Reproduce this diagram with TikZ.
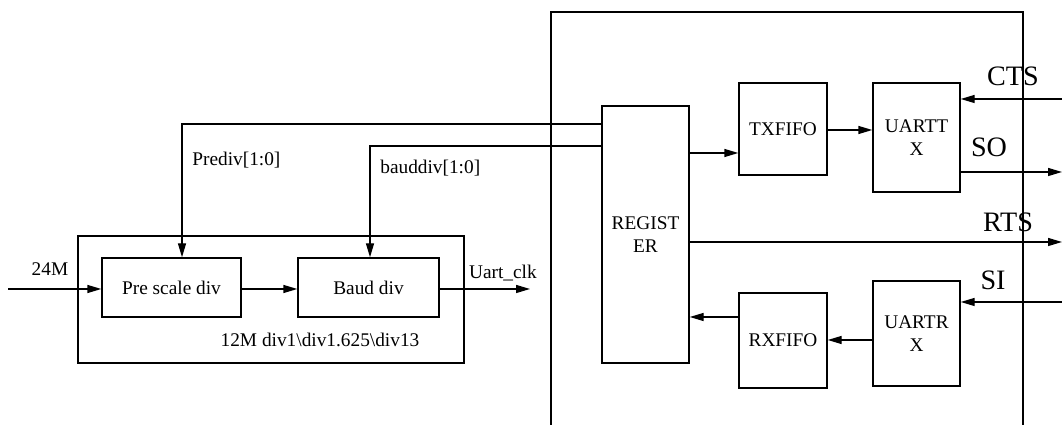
\documentclass[tikz,border=0pt]{standalone}
\usepackage{fontspec}
\setmainfont{Liberation Serif}
\usetikzlibrary{arrows.meta}

\tikzset{
  blk/.style={draw, line width=0.8pt, minimum width=1.76cm, inner sep=0pt, align=center, font=\fontsize{11}{13}\selectfont},
  wire/.style={line width=0.8pt},
  lbl/.style={font=\fontsize{11}{13}\selectfont, inner sep=0pt},
  sig/.style={font=\fontsize{16}{18}\selectfont, inner sep=0pt}
}

\begin{document}
\begin{tikzpicture}[>={Triangle[length=2.8mm,width=1.6mm]}]
    \useasboundingbox (0,0) rectangle (21.24,8.5);

    % Outer frames
    \draw[wire] (11.02,0) -- (11.02,8.26) -- (20.46,8.26) -- (20.46,0);
    \draw[wire] (1.56,1.24) rectangle (9.28,3.78);

    % Clock divider blocks
    \node[blk, minimum width=2.78cm, minimum height=1.18cm] (prescale) at (3.43,2.75) {Pre scale div};
    \node[blk, minimum width=2.82cm, minimum height=1.18cm] (baud) at (7.37,2.75) {Baud div};
    \node[lbl] (divs) at (6.4,1.7) {12M div1\textbackslash div1.625\textbackslash div13};

    % UART blocks
    \node[blk, minimum width=1.74cm, minimum height=5.14cm] (reg) at (12.91,3.81) {REGIST\\ER};
    \node[blk, minimum height=1.84cm] (txfifo) at (15.66,5.92) {TXFIFO};
    \node[blk, minimum width=1.74cm, minimum height=2.18cm] (uarttx) at (18.33,5.75) {UARTT\\X};
    \node[blk, minimum height=1.9cm] (rxfifo) at (15.66,1.69) {RXFIFO};
    \node[blk, minimum width=1.74cm, minimum height=2.1cm] (uartrx) at (18.33,1.83) {UARTR\\X};

    % Free ends
    \coordinate (clkin) at (0.16,2.72);
    \coordinate (clkout) at (10.6,2.72);
    \coordinate (pd) at (3.64,6.02);
    \coordinate (bd) at (7.4,5.58);
    \coordinate (cts) at (21.24,6.52);
    \coordinate (so) at (21.24,5.06);
    \coordinate (rts) at (21.24,3.66);
    \coordinate (si) at (21.24,2.46);

    % Clock path
    \draw[->, wire] (clkin) -- (prescale.west |- clkin) node[pos=0.45, above=0.25cm, lbl] {24M};
    \draw[->, wire] (prescale.east |- clkin) -- (baud.west |- clkin);
    \draw[->, wire] (baud.east |- clkin) -- (clkout) node[pos=0.7, above=0.15cm, lbl] {Uart\_clk};

    % Divider settings from the register
    \draw[->, wire] (reg.west |- pd) -- (pd) -- (pd |- prescale.north);
    \draw[->, wire] (reg.west |- bd) -- (bd) -- (bd |- baud.north);
    \node[lbl, anchor=west] (pdl) at (3.84,5.3) {Prediv[1:0]};
    \node[lbl, anchor=west] (bdl) at (7.6,5.14) {bauddiv[1:0]};

    % Transmit and receive paths
    \draw[->, wire] (reg.east |- 0,5.44) -- (txfifo.west |- 0,5.44);
    \draw[->, wire] (txfifo.east |- 0,5.9) -- (uarttx.west |- 0,5.9);
    \draw[->, wire] (uartrx.west |- 0,1.7) -- (rxfifo.east |- 0,1.7);
    \draw[->, wire] (rxfifo.west |- 0,2.16) -- (reg.east |- 0,2.16);

    % External signals
    \draw[->, wire] (cts) -- (uarttx.east |- cts);
    \draw[->, wire] (uarttx.east |- so) -- (so);
    \draw[->, wire] (reg.east |- rts) -- (rts);
    \draw[->, wire] (si) -- (uartrx.east |- si);
    \node[sig] (ctsl) at (20.26,6.98) {CTS};
    \node[sig] (sol) at (19.78,5.56) {SO};
    \node[sig] (rtsl) at (20.16,4.06) {RTS};
    \node[sig] (sil) at (19.86,2.9) {SI};
\end{tikzpicture}
\end{document}
